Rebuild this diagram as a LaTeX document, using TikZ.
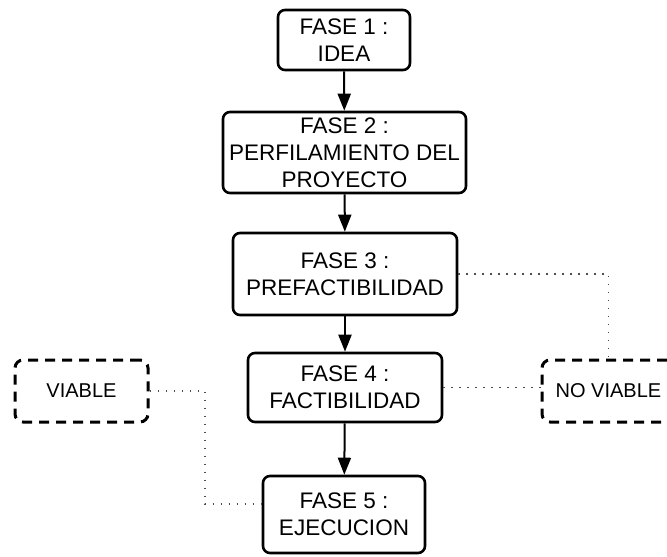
\documentclass[tikz,border=0pt]{standalone}
\usepackage{fontspec}
\setmainfont{Liberation Sans}
\usetikzlibrary{arrows.meta}

\begin{document}
\begin{tikzpicture}[x=1pt, y=-1pt,
  every node/.style={font=\fontsize{22.5}{27}\selectfont, align=center, inner sep=1pt},
  fase/.style={draw, rounded corners=7pt, line width=2.6pt},
  aside/.style={draw, rounded corners=8pt, line width=3pt, dash pattern=on 10pt off 7pt,
                font=\fontsize{20}{24}\selectfont},
  flow/.style={line width=2pt, -{Triangle[length=17pt, width=13pt]}},
  link/.style={line width=1.3pt, black!70, dash pattern=on 1.3pt off 6.7pt}]
  \useasboundingbox (0,0) rectangle (667,557);

  % main chain of phases
  \node[fase, minimum width=132pt, minimum height=60pt] (f1) at (344,40) {FASE 1 :\\IDEA};
  \node[fase, minimum width=243pt, minimum height=81pt] (f2) at (344.5,152.5) {FASE 2 :\\PERFILAMIENTO DEL\\PROYECTO};
  \node[fase, minimum width=224pt, minimum height=82pt] (f3) at (345,274) {FASE 3 :\\PREFACTIBILIDAD};
  \node[fase, minimum width=194pt, minimum height=69pt] (f4) at (345,387.5) {FASE 4 :\\FACTIBILIDAD};
  \node[fase, minimum width=162pt, minimum height=77pt] (f5) at (344,514.5) {FASE 5 :\\EJECUCION};
  \foreach \a/\b in {f1/f2, f2/f3, f3/f4, f4/f5} {
    \draw[flow] (\a) -- (\b);
  }

  % outcomes on both sides
  \node[aside, minimum width=133pt, minimum height=62pt] (via) at (81.5,391) {VIABLE};
  \node[aside, minimum width=133pt, minimum height=62pt] (nv) at (608.5,391) {NO VIABLE};

  \coordinate (bend) at (205,504);
  \draw[link] (f3.east) -| (nv.north);
  \draw[link] (f4.east) -- (f4.east -| nv.west);
  \draw[link] (via.east) -| (bend) -- (bend -| f5.west);
\end{tikzpicture}
\end{document}
